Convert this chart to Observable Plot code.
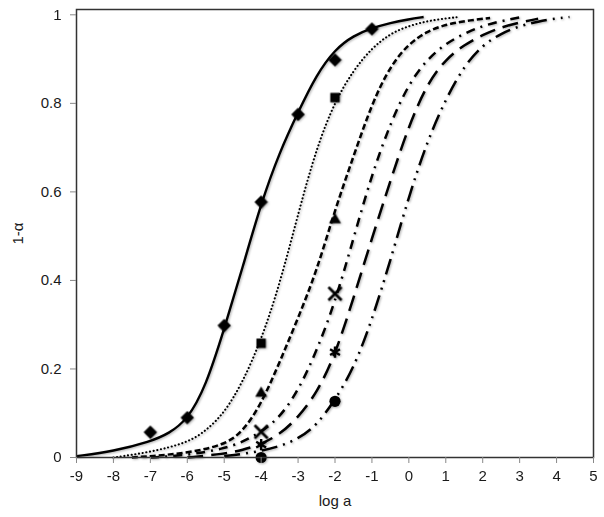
<!DOCTYPE html>
<html><head><meta charset="utf-8">
<script src="https://cdn.jsdelivr.net/npm/d3@7"></script>
<script src="https://cdn.jsdelivr.net/npm/@observablehq/plot@0.6"></script>
<style>
body{margin:0;background:#fff}
g[aria-label="line"], g[aria-label="dot"]{filter: drop-shadow(1px 1.5px 1.2px rgba(0,0,0,0.3));}
</style>
</head><body><div id="chart"></div>
<script>
// Tick labels
const xTicks = [-9, -8, -7, -6, -5, -4, -3, -2, -1, 0, 1, 2, 3, 4, 5];
const yTicks = [0, 0.2, 0.4, 0.6, 0.8, 1];

// Fitted curves
const solidX  = [-9, -8, -7, -6.5, -6, -5.5, -5, -4.5, -4, -3.5, -3, -2.5, -2, -1.5, -1, -0.5, 0, 0.4];
const solidY  = [0.003, 0.014, 0.036, 0.054, 0.085, 0.16, 0.29, 0.43, 0.575, 0.69, 0.78, 0.865, 0.922, 0.953, 0.97, 0.982, 0.99, 0.995];
const dottedX = [-8, -7, -6, -5.5, -5, -4.5, -4, -3.5, -3, -2.5, -2, -1.5, -1, -0.5, 0, 0.5, 1, 1.35];
const dottedY = [0.0, 0.012, 0.033, 0.06, 0.1, 0.17, 0.265, 0.39, 0.55, 0.70, 0.805, 0.875, 0.925, 0.958, 0.975, 0.986, 0.992, 0.995];
const shortDashX = [-7.5, -7, -6, -5, -4.5, -4, -3.5, -3, -2.5, -2, -1.5, -1, -0.5, 0, 0.5, 1, 1.5, 2.2];
const shortDashY = [0.0, 0.003, 0.01, 0.028, 0.058, 0.12, 0.215, 0.315, 0.42, 0.56, 0.68, 0.8, 0.885, 0.935, 0.963, 0.978, 0.986, 0.993];
const dashDotX = [-7, -6, -5, -4.5, -4, -3.5, -3, -2.5, -2, -1.5, -1, -0.5, 0, 0.5, 1, 1.5, 2, 2.5, 3];
const dashDotY = [0.0, 0.005, 0.02, 0.035, 0.058, 0.09, 0.15, 0.24, 0.35, 0.495, 0.64, 0.755, 0.845, 0.9, 0.935, 0.958, 0.975, 0.986, 0.994];
const longDashX = [-6, -5, -4.5, -4, -3.5, -3, -2.5, -2, -1.5, -1, -0.5, 0, 0.5, 1, 1.5, 2, 2.5, 3, 3.5];
const longDashY = [0.0, 0.008, 0.017, 0.03, 0.052, 0.09, 0.145, 0.23, 0.36, 0.495, 0.625, 0.75, 0.845, 0.9, 0.932, 0.955, 0.972, 0.983, 0.991];
const dashDotDotX = [-5, -4.5, -4, -3.5, -3, -2.5, -2, -1.5, -1, -0.5, 0, 0.5, 1, 1.5, 2, 2.5, 3, 3.5, 4, 4.35];
const dashDotDotY = [0.003, 0.008, 0.015, 0.025, 0.042, 0.072, 0.13, 0.2, 0.31, 0.445, 0.59, 0.715, 0.81, 0.885, 0.932, 0.958, 0.975, 0.985, 0.992, 0.995];

// Measured points
const diamondX = [-7, -6, -5, -4, -3, -2, -1];
const diamondY = [0.057, 0.09, 0.298, 0.577, 0.775, 0.898, 0.968];
const squareX = [-4, -2];
const squareY = [0.258, 0.813];
const triangleX = [-4, -2];
const triangleY = [0.145, 0.537];
const crossX = [-4, -2];
const crossY = [0.058, 0.37];
const starX = [-4, -2];
const starY = [0.029, 0.238];
const circleX = [-4, -2];
const circleY = [0.0, 0.127];

const pts = (xs, ys) => xs.map((x, i) => ({x, y: ys[i]}));

const curves = [
  {xs: solidX, ys: solidY, dash: null, w: 2.4, cap: "butt"},
  {xs: dottedX, ys: dottedY, dash: "0.1,3.6", w: 2.1, cap: "round"},
  {xs: shortDashX, ys: shortDashY, dash: "6,3", w: 2.5, cap: "butt"},
  {xs: dashDotX, ys: dashDotY, dash: "9,6,2,6", w: 2.5, cap: "butt"},
  {xs: longDashX, ys: longDashY, dash: "16,8", w: 2.5, cap: "butt"},
  {xs: dashDotDotX, ys: dashDotDotY, dash: "16,6,2,6,2,6", w: 2.5, cap: "butt"}
];

const lineMarks = curves.map(c => Plot.line(pts(c.xs, c.ys), {
  x: "x", y: "y", stroke: "#000", strokeWidth: c.w, strokeLinecap: c.cap,
  strokeDasharray: c.dash ?? undefined, curve: "basis"
}));

const markers = [
  Plot.dot(pts(diamondX, diamondY), {x: "x", y: "y", symbol: "diamond2", r: 5.6, fill: "#000", stroke: "#000", strokeWidth: 1}),
  Plot.dot(pts(squareX, squareY), {x: "x", y: "y", symbol: "square", r: 5.3, fill: "#000"}),
  Plot.dot(pts(triangleX, triangleY), {x: "x", y: "y", symbol: "triangle", r: 4.4, fill: "#000"}),
  Plot.dot(pts(crossX, crossY), {x: "x", y: "y", symbol: "times", r: 6, stroke: "#000", strokeWidth: 2.6, fill: "none"}),
  Plot.dot(pts(starX, starY), {x: "x", y: "y", symbol: "asterisk", r: 5.4, stroke: "#000", strokeWidth: 2.4, fill: "none"}),
  Plot.dot(pts(circleX, circleY), {x: "x", y: "y", symbol: "circle", r: 5.6, fill: "#000"})
];

const chart = Plot.plot({
  width: 604,
  height: 517,
  marginLeft: 76,
  marginRight: 11,
  marginTop: 9,
  marginBottom: 60,
  style: {fontFamily: "'Liberation Sans', Arial, sans-serif", fontSize: "15px", color: "#1a1a1a", background: "#fff"},
  x: {domain: [-9, 5]},
  y: {domain: [0, 1.012]},
  marks: [
    ...lineMarks,
    ...markers,
    Plot.frame({stroke: "#333", strokeWidth: 1.5}),
    Plot.axisX({ticks: xTicks, tickSize: 6, tickPadding: 7, tickFormat: d => String(d), stroke: "#888",
      label: "log a", labelAnchor: "center", labelArrow: "none", labelOffset: 48, fontSize: 15}),
    Plot.axisY({ticks: yTicks, tickSize: 6, tickPadding: 9, tickFormat: d => String(d), stroke: "#888",
      label: "1-α", labelAnchor: "center", labelArrow: "none", labelOffset: 64, fontSize: 15})
  ]
});
document.getElementById("chart").appendChild(chart);
</script>
</body></html>
